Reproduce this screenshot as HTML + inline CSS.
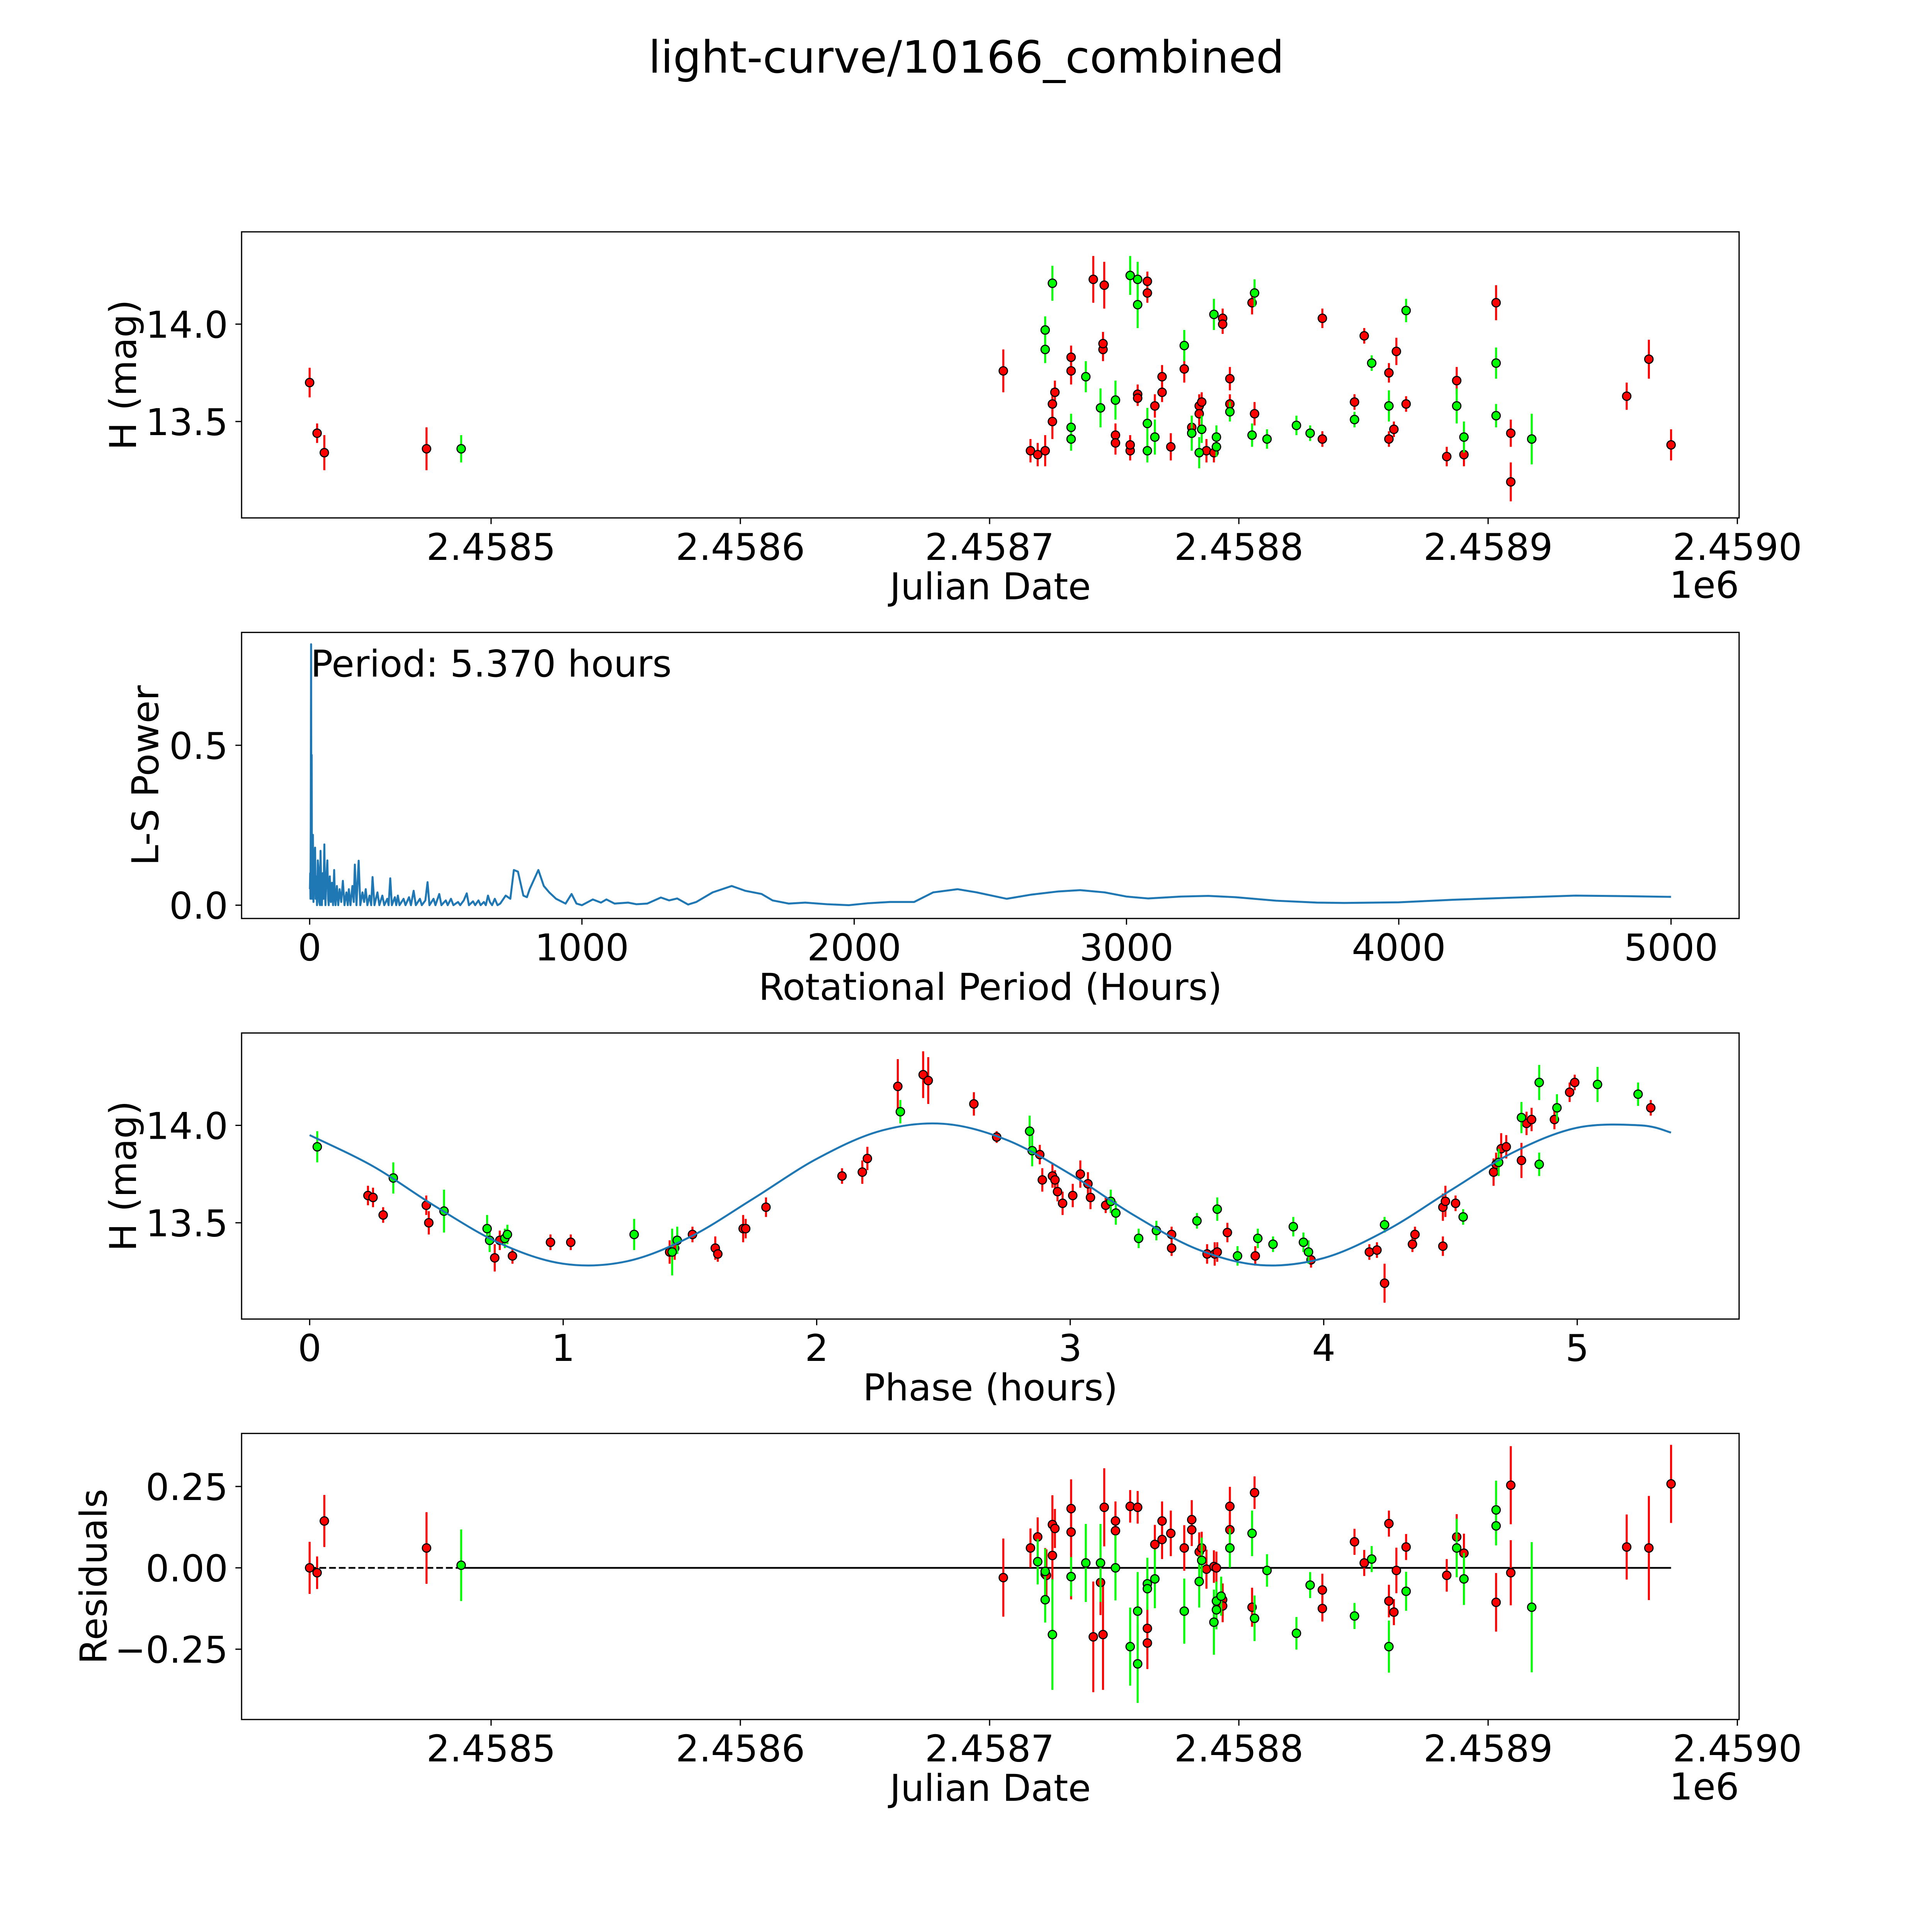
<!DOCTYPE html>
<html><head><meta charset="utf-8"><style>
html,body{margin:0;padding:0;background:#fff;width:100%;height:100%;overflow:hidden;}
svg{display:block;width:100vw;height:100vh;}
text{font-family:"DejaVu Sans","Liberation Sans",sans-serif;fill:#000;}
</style></head><body>
<svg id="fig" xmlns="http://www.w3.org/2000/svg" viewBox="0 0 1567.5 1567.5" preserveAspectRatio="xMidYMid meet">
<rect width="1567.5" height="1567.5" fill="#fff"/>
<text x="784" y="59" font-size="36" text-anchor="middle">light-curve/10166_combined</text>
</svg>
<script>
// ---------- Panel 1: light curve (days since JD 2458400) ----------
const redDays = [27.2,30.2,33.1,74.1,305.5,316.4,319.3,322.3,325.2,325.2,326.2,332.7,332.7,341.6,345.5,345.5,346,350.5,350.5,356.4,356.4,359.4,359.4,363.3,363.3,366.3,369.2,369.2,372.7,378.1,381.1,381.1,384.1,384.1,385.1,387,390,391,393.5,393.5,396.4,396.4,405.3,406.3,433.5,433.5,446.4,450.3,460.2,460.2,462.2,463.2,467.1,483.4,487.4,490.3,503.2,509.1,509.1,555.6,564.5,573.4];
const redMag = [13.70,13.44,13.34,13.36,13.76,13.35,13.33,13.35,13.50,13.59,13.65,13.83,13.76,14.23,13.87,13.90,14.20,13.43,13.39,13.35,13.38,13.64,13.62,14.22,14.16,13.58,13.73,13.65,13.37,13.77,13.47,13.44,13.58,13.54,13.60,13.35,13.34,13.37,14.03,14.00,13.72,13.59,14.11,13.54,14.03,13.41,13.60,13.94,13.75,13.41,13.46,13.86,13.59,13.32,13.71,13.33,14.11,13.44,13.19,13.63,13.82,13.38];
const redErr = [0.076,0.05,0.09,0.11,0.11,0.06,0.06,0.08,0.09,0.08,0.06,0.06,0.07,0.12,0.06,0.06,0.12,0.06,0.06,0.05,0.05,0.05,0.04,0.05,0.05,0.06,0.06,0.05,0.07,0.07,0.06,0.05,0.06,0.06,0.05,0.06,0.05,0.05,0.05,0.05,0.06,0.05,0.06,0.06,0.05,0.04,0.04,0.04,0.05,0.04,0.04,0.07,0.04,0.05,0.07,0.06,0.09,0.07,0.10,0.07,0.10,0.08];
const greenDays = [88,322.3,322.3,325.2,332.7,332.7,338.6,344.5,350.5,356.4,359.4,359.4,363.3,363.3,366.3,378.1,381.1,384.1,385.1,390,391,391,396.4,405.3,406.3,411.3,423.1,428.6,446.4,453.3,460.2,467.1,487.4,490.3,503.2,503.2,517.5];
const greenMag = [13.36,13.97,13.87,14.21,13.47,13.41,13.73,13.57,13.61,14.25,14.10,14.23,13.49,13.35,13.42,13.89,13.44,13.34,13.46,14.05,13.42,13.37,13.55,13.43,14.16,13.41,13.48,13.44,13.51,13.80,13.58,14.07,13.58,13.42,13.80,13.53,13.41];
const greenErr = [0.07,0.07,0.07,0.09,0.07,0.06,0.08,0.10,0.10,0.10,0.12,0.09,0.08,0.06,0.09,0.08,0.09,0.08,0.07,0.08,0.06,0.05,0.05,0.06,0.07,0.05,0.05,0.04,0.04,0.04,0.08,0.06,0.09,0.08,0.08,0.06,0.13];
const jdTickDays = [100,200,300,400,500,600];
const jdTickLabels = ["2.4585","2.4586","2.4587","2.4588","2.4589","2.4590"];
const magTicks = [13.5,14.0];
const magTickLabels = ["13.5","14.0"];

// ---------- Panel 2: periodogram ----------
const lsPeriods = [1,2,3,4,5.37,6.5,7.5,8.5,10,12,14,17,20,22,24,27,30,32,35,38,40,43,45,48,51,54,56,58,61,65,68,70,74,78,82,86,90,93,95,100,105,110,116,122,128,135,140,144,150,157,162,166,172,180,186,194,200,206,212,220,226,231,238,249,256,267,274,285,290,296,302,313,318,324,330,345,352,365,372,382,390,405,412,425,433,440,455,462,476,484,500,507,519,528,545,553,566,577,585,600,608,620,628,640,647,655,662,670,680,690,700,720,737,750,765,785,798,808,840,860,880,905,940,962,980,1000,1040,1070,1090,1120,1170,1200,1240,1290,1320,1350,1390,1420,1480,1550,1600,1660,1700,1760,1820,1900,1980,2050,2130,2220,2290,2380,2450,2560,2650,2750,2830,2920,3000,3080,3200,3300,3400,3550,3700,3800,4000,4200,4400,4650,4850,5000];
const lsPower = [0.05,0.10,0.02,0.24,0.816,0.05,0.47,0.02,0.15,0.22,0.01,0.13,0.18,0.02,0.09,0.0,0.14,0.12,0.01,0.0,0.17,0.03,0.0,0.1,0.02,0.19,0.05,0.0,0.08,0.14,0.02,0.0,0.09,0.01,0.07,0.0,0.11,0.02,0.0,0.06,0.0,0.05,0.01,0.076,0.0,0.04,0.0,0.05,0.0,0.06,0.01,0.127,0.0,0.139,0.0,0.04,0.01,0.05,0.0,0.03,0.0,0.088,0.0,0.04,0.0,0.03,0.0,0.02,0.0,0.084,0.0,0.025,0.0,0.03,0.0,0.02,0.0,0.025,0.0,0.045,0.0,0.02,0.0,0.015,0.072,0.0,0.02,0.0,0.035,0.0,0.015,0.0,0.02,0.0,0.01,0.0,0.015,0.037,0.0,0.012,0.0,0.015,0.0,0.01,0.0,0.03,0.01,0.0,0.02,0.0,0.005,0.03,0.02,0.11,0.105,0.03,0.025,0.05,0.11,0.06,0.04,0.02,0.005,0.035,0.005,0.0,0.018,0.008,0.018,0.005,0.008,0.003,0.005,0.024,0.015,0.021,0.002,0.01,0.04,0.06,0.045,0.035,0.015,0.005,0.008,0.003,0.0,0.006,0.01,0.01,0.04,0.05,0.04,0.02,0.033,0.043,0.047,0.04,0.027,0.021,0.027,0.029,0.025,0.014,0.008,0.007,0.009,0.017,0.023,0.03,0.028,0.026];
const periodTicks = [0,1000,2000,3000,4000,5000];
const periodTickLabels = ["0","1000","2000","3000","4000","5000"];
const powerTicks = [0,0.5];
const powerTickLabels = ["0.0","0.5"];

// ---------- Panel 3: phased curve ----------
const redPhase = [0.23,0.25,0.29,0.46,0.47,0.73,0.75,0.80,0.95,1.03,1.42,1.44,1.51,1.60,1.61,1.71,1.72,1.80,2.10,2.18,2.20,2.32,2.42,2.44,2.62,2.71,2.88,2.89,2.93,2.94,2.95,2.97,3.01,3.04,3.07,3.08,3.14,3.40,3.40,3.54,3.57,3.58,3.62,3.73,3.95,4.18,4.21,4.24,4.35,4.36,4.47,4.47,4.48,4.52,4.67,4.68,4.70,4.72,4.78,4.80,4.82,4.91,4.97,4.99,5.29];
const redPhaseMag = [13.64,13.63,13.54,13.59,13.50,13.32,13.41,13.33,13.40,13.40,13.35,13.37,13.44,13.37,13.34,13.47,13.47,13.58,13.74,13.76,13.83,14.20,14.26,14.23,14.11,13.94,13.85,13.72,13.74,13.72,13.66,13.60,13.64,13.75,13.70,13.63,13.59,13.37,13.44,13.34,13.34,13.35,13.45,13.33,13.31,13.35,13.36,13.19,13.39,13.44,13.38,13.58,13.61,13.60,13.76,13.80,13.88,13.89,13.82,14.01,14.03,14.03,14.17,14.22,14.09];
const redPhaseErr = [0.05,0.05,0.04,0.05,0.06,0.07,0.05,0.04,0.04,0.04,0.06,0.06,0.04,0.06,0.04,0.07,0.05,0.05,0.04,0.06,0.06,0.14,0.12,0.12,0.06,0.03,0.05,0.06,0.06,0.05,0.05,0.06,0.06,0.07,0.06,0.06,0.04,0.04,0.04,0.05,0.06,0.05,0.05,0.05,0.04,0.04,0.04,0.10,0.04,0.04,0.05,0.07,0.08,0.04,0.07,0.06,0.08,0.06,0.09,0.06,0.06,0.05,0.05,0.04,0.04];
const greenPhase = [0.03,0.33,0.53,0.70,0.71,0.77,0.78,1.28,1.43,1.45,2.33,2.84,2.85,3.16,3.18,3.27,3.34,3.50,3.58,3.66,3.74,3.80,3.88,3.92,3.94,4.24,4.55,4.69,4.78,4.85,4.85,4.92,5.08,5.24];
const greenPhaseMag = [13.89,13.73,13.56,13.47,13.41,13.42,13.44,13.44,13.35,13.41,14.07,13.97,13.87,13.61,13.55,13.42,13.46,13.51,13.57,13.33,13.42,13.39,13.48,13.40,13.35,13.49,13.53,13.81,14.04,13.80,14.22,14.09,14.21,14.16];
const greenPhaseErr = [0.08,0.08,0.11,0.07,0.06,0.05,0.05,0.08,0.12,0.07,0.06,0.08,0.08,0.06,0.06,0.05,0.05,0.04,0.06,0.05,0.05,0.04,0.05,0.05,0.06,0.04,0.04,0.07,0.08,0.06,0.09,0.07,0.09,0.06];
const fitPhase = [0,0.25,0.5,0.75,1.0,1.25,1.5,1.75,2.0,2.25,2.5,2.75,3.0,3.25,3.5,3.75,4.0,4.25,4.5,4.75,5.0,5.25,5.37];
const fitMag = [13.950,13.790,13.581,13.395,13.290,13.302,13.427,13.624,13.828,13.971,14.008,13.925,13.750,13.540,13.365,13.283,13.319,13.463,13.666,13.863,13.988,14.000,13.963];
const phaseTicks = [0,1,2,3,4,5];
const phaseTickLabels = ["0","1","2","3","4","5"];

// ---------- Panel 4: residuals ----------
const redResDays = [27.2,30.2,33.1,74.1,305.5,316.4,319.3,322.3,322.8,325.2,326.2,325.2,332.7,332.7,332.7,341.6,345.5,344.5,346,350.5,350.5,356.4,359.4,363.3,363.3,366.3,369.2,369.2,372.7,378.1,381.1,381.1,384.1,385.1,387,390,391,393.5,393.5,396.4,396.4,405.3,406.3,433.5,433.5,446.4,450.3,460.2,460.2,462.2,463.2,467.1,483.4,487.4,490.3,503.2,509.1,509.1,555.6,564.5,573.4];
const redRes = [0,-0.015,0.144,0.061,-0.03,0.061,0.095,-0.019,-0.023,0.133,0.121,0.038,0.182,0.11,-0.027,-0.212,-0.205,-0.045,0.186,0.144,0.114,0.189,0.186,-0.186,-0.231,0.072,0.144,0.087,0.106,0.061,0.148,0.117,0.049,0.061,-0.004,0.004,0,-0.098,-0.117,0.189,0.117,-0.121,0.231,-0.068,-0.125,0.08,0.015,-0.102,0.136,-0.136,-0.008,0.064,-0.023,0.095,0.045,-0.106,0.254,-0.015,0.064,0.061,0.258];
const redResErr = [0.08,0.05,0.08,0.11,0.12,0.06,0.06,0.08,0.08,0.09,0.06,0.08,0.09,0.07,0.07,0.17,0.17,0.10,0.12,0.06,0.06,0.05,0.05,0.08,0.08,0.06,0.06,0.06,0.07,0.07,0.06,0.05,0.06,0.05,0.06,0.05,0.05,0.05,0.05,0.06,0.05,0.06,0.05,0.05,0.04,0.04,0.04,0.05,0.04,0.04,0.07,0.04,0.05,0.07,0.06,0.09,0.12,0.10,0.10,0.16,0.12];
const greenResDays = [88,319.3,322.3,322.3,325.2,332.7,338.6,344.5,350.5,356.4,359.4,359.4,363.3,363.3,366.3,378.1,384.1,385.1,390,391,391,392.9,396.4,405.3,406.3,411.3,423.1,428.6,446.4,453.3,460.2,467.1,487.4,490.3,503.2,503.2,517.5];
const greenRes = [0.008,0.019,-0.011,-0.098,-0.205,-0.027,0.015,0.015,0,-0.242,-0.133,-0.295,-0.049,-0.064,-0.034,-0.133,-0.042,0.023,-0.167,-0.129,-0.102,-0.087,0.061,0.106,-0.155,-0.008,-0.201,-0.053,-0.148,0.027,-0.242,-0.072,0.061,-0.034,0.178,0.129,-0.121];
const greenResErr = [0.11,0.07,0.07,0.07,0.17,0.06,0.12,0.12,0.10,0.12,0.12,0.12,0.08,0.06,0.09,0.10,0.08,0.07,0.10,0.06,0.06,0.06,0.06,0.07,0.07,0.05,0.05,0.04,0.04,0.04,0.08,0.06,0.09,0.08,0.09,0.06,0.20];
const resTicks = [-0.25,0,0.25];
const resTickLabels = ["\u22120.25","0.00","0.25"];

const NS = "http://www.w3.org/2000/svg";
const fig = document.getElementById("fig");
function mk(tag, attrs, parent) {
  const e = document.createElementNS(NS, tag);
  for (const k in attrs) e.setAttribute(k, attrs[k]);
  (parent || fig).appendChild(e);
  return e;
}
function makeAxes(top, xmin, xmax, ymin, ymax) {
  const L = 196, R = 1411, H = 232.1;
  return { L, R, T: top, B: top + H,
    x: v => L + (v - xmin) / (xmax - xmin) * (R - L),
    y: v => top + H - (v - ymin) / (ymax - ymin) * H };
}
const ax1 = makeAxes(188.1, -0.1, 600.7, 13.005, 14.474);
const ax2 = makeAxes(513.1, -250, 5250, -0.0416, 0.853);
const ax3 = makeAxes(838.1, -0.2685, 5.6385, 13.006, 14.474);
const ax4 = makeAxes(1163.0, -0.1, 600.7, -0.466, 0.413);

function frame(ax, name) {
  const g = mk("g", {});
  
  
  return g;
}
function spines(ax, g) {
  const r = mk("rect", {x: ax.L, y: ax.T, width: ax.R - ax.L, height: ax.B - ax.T, fill: "none", stroke: "#000", "stroke-width": 1}, g);
  
  
}
function xTicks(ax, g, vals, labels) {
  vals.forEach((v, i) => {
    const X = ax.x(v);
    mk("line", {x1: X, x2: X, y1: ax.B, y2: ax.B + 5, stroke: "#000", "stroke-width": 1}, g);
    const t = mk("text", {x: X, y: ax.B + 34, "font-size": 30, "text-anchor": "middle"}, g);
    t.textContent = labels[i];
    
    
  });
}
function yTicks(ax, g, vals, labels) {
  vals.forEach((v, i) => {
    const Y = ax.y(v);
    mk("line", {x1: ax.L - 5, x2: ax.L, y1: Y, y2: Y, stroke: "#000", "stroke-width": 1}, g);
    const t = mk("text", {x: ax.L - 11, y: Y + 11, "font-size": 30, "text-anchor": "end"}, g);
    t.textContent = labels[i];
    
    
  });
}
function xLabel(ax, g, txt, name) {
  const t = mk("text", {x: (ax.L + ax.R) / 2, y: ax.B + 66, "font-size": 30, "text-anchor": "middle"}, g);
  t.textContent = txt;
  
  
}
function yLabel(ax, g, txt, cx, name) {
  const cy = (ax.T + ax.B) / 2;
  const t = mk("text", {x: cx, y: cy, "font-size": 30, "text-anchor": "middle", "dominant-baseline": "central", transform: "rotate(-90 " + cx + " " + cy + ")"}, g);
  t.textContent = txt;
  
  
}
function errPoints(ax, g, xs, ys, es, color, name) {
  const gg = mk("g", {}, g);
  
  
  xs.forEach((xv, i) => {
    const X = ax.x(xv);
    const bar = mk("line", {x1: X, x2: X, y1: ax.y(ys[i] - es[i]), y2: ax.y(ys[i] + es[i]), stroke: color, "stroke-width": 1.65}, gg);
    
    
  });
  xs.forEach((xv, i) => {
    const c = mk("circle", {cx: ax.x(xv), cy: ax.y(ys[i]), r: 3.4, fill: color, stroke: "#000", "stroke-width": 0.9}, gg);
    
    
  });
}
function smoothPath(pts) {
  let d = "M" + pts[0][0] + "," + pts[0][1];
  for (let i = 0; i < pts.length - 1; i++) {
    const p0 = pts[Math.max(0, i - 1)], p1 = pts[i], p2 = pts[i + 1], p3 = pts[Math.min(pts.length - 1, i + 2)];
    const c1x = p1[0] + (p2[0] - p0[0]) / 6, c1y = p1[1] + (p2[1] - p0[1]) / 6;
    const c2x = p2[0] - (p3[0] - p1[0]) / 6, c2y = p2[1] - (p3[1] - p1[1]) / 6;
    d += " C" + c1x + "," + c1y + " " + c2x + "," + c2y + " " + p2[0] + "," + p2[1];
  }
  return d;
}

// Panel 1
const g1 = frame(ax1, "light-curve-panel");
errPoints(ax1, g1, redDays, redMag, redErr, "#ff0000", "red-filter-series");
errPoints(ax1, g1, greenDays, greenMag, greenErr, "#00ff00", "green-filter-series");
spines(ax1, g1);
xTicks(ax1, g1, jdTickDays, jdTickLabels);
yTicks(ax1, g1, magTicks, magTickLabels);
xLabel(ax1, g1, "Julian Date", "x-axis-title-julian-date");
yLabel(ax1, g1, "H (mag)", 100, "y-axis-title-h-mag");
const off1 = mk("text", {x: 1411, y: 485, "font-size": 30, "text-anchor": "end"}, g1);
off1.textContent = "1e6";



// Panel 2
const g2 = frame(ax2, "periodogram-panel");
const lsPts = lsPeriods.map((p, i) => ax2.x(p).toFixed(2) + "," + ax2.y(lsPower[i]).toFixed(2)).join(" ");
const lsLine = mk("polyline", {points: lsPts, fill: "none", stroke: "#1f77b4", "stroke-width": 1.6, "stroke-linejoin": "round"}, g2);


spines(ax2, g2);
xTicks(ax2, g2, periodTicks, periodTickLabels);
yTicks(ax2, g2, powerTicks, powerTickLabels);
xLabel(ax2, g2, "Rotational Period (Hours)", "x-axis-title-period");
yLabel(ax2, g2, "L-S Power", 118, "y-axis-title-ls-power");
const ann = mk("text", {x: 252, y: 549, "font-size": 30}, g2);
ann.textContent = "Period: 5.370 hours";



// Panel 3
const g3 = frame(ax3, "phase-panel");
errPoints(ax3, g3, redPhase, redPhaseMag, redPhaseErr, "#ff0000", "red-phase-series");
errPoints(ax3, g3, greenPhase, greenPhaseMag, greenPhaseErr, "#00ff00", "green-phase-series");
const fitPts = fitPhase.map((p, i) => [ax3.x(p), ax3.y(fitMag[i])]);
const fit = mk("path", {d: smoothPath(fitPts), fill: "none", stroke: "#1f77b4", "stroke-width": 1.6}, g3);


spines(ax3, g3);
xTicks(ax3, g3, phaseTicks, phaseTickLabels);
yTicks(ax3, g3, magTicks, magTickLabels);
xLabel(ax3, g3, "Phase (hours)", "x-axis-title-phase");
yLabel(ax3, g3, "H (mag)", 100, "y-axis-title-h-mag-phase");

// Panel 4
const g4 = frame(ax4, "residuals-panel");
const dash = mk("line", {x1: ax4.x(redDays[0]), x2: ax4.x(greenDays[0]), y1: ax4.y(0), y2: ax4.y(0), stroke: "#000", "stroke-width": 1.4, "stroke-dasharray": "5.5,2.4"}, g4);


const solid = mk("line", {x1: ax4.x(greenDays[0]), x2: ax4.x(redDays[redDays.length - 1]), y1: ax4.y(0), y2: ax4.y(0), stroke: "#000", "stroke-width": 1.4}, g4);


errPoints(ax4, g4, redResDays, redRes, redResErr, "#ff0000", "red-residual-series");
errPoints(ax4, g4, greenResDays, greenRes, greenResErr, "#00ff00", "green-residual-series");
spines(ax4, g4);
xTicks(ax4, g4, jdTickDays, jdTickLabels);
yTicks(ax4, g4, resTicks, resTickLabels);
xLabel(ax4, g4, "Julian Date", "x-axis-title-julian-date-residuals");
yLabel(ax4, g4, "Residuals", 76, "y-axis-title-residuals");
const off4 = mk("text", {x: 1411, y: 1460, "font-size": 30, "text-anchor": "end"}, g4);
off4.textContent = "1e6";


</script>
</body></html>
